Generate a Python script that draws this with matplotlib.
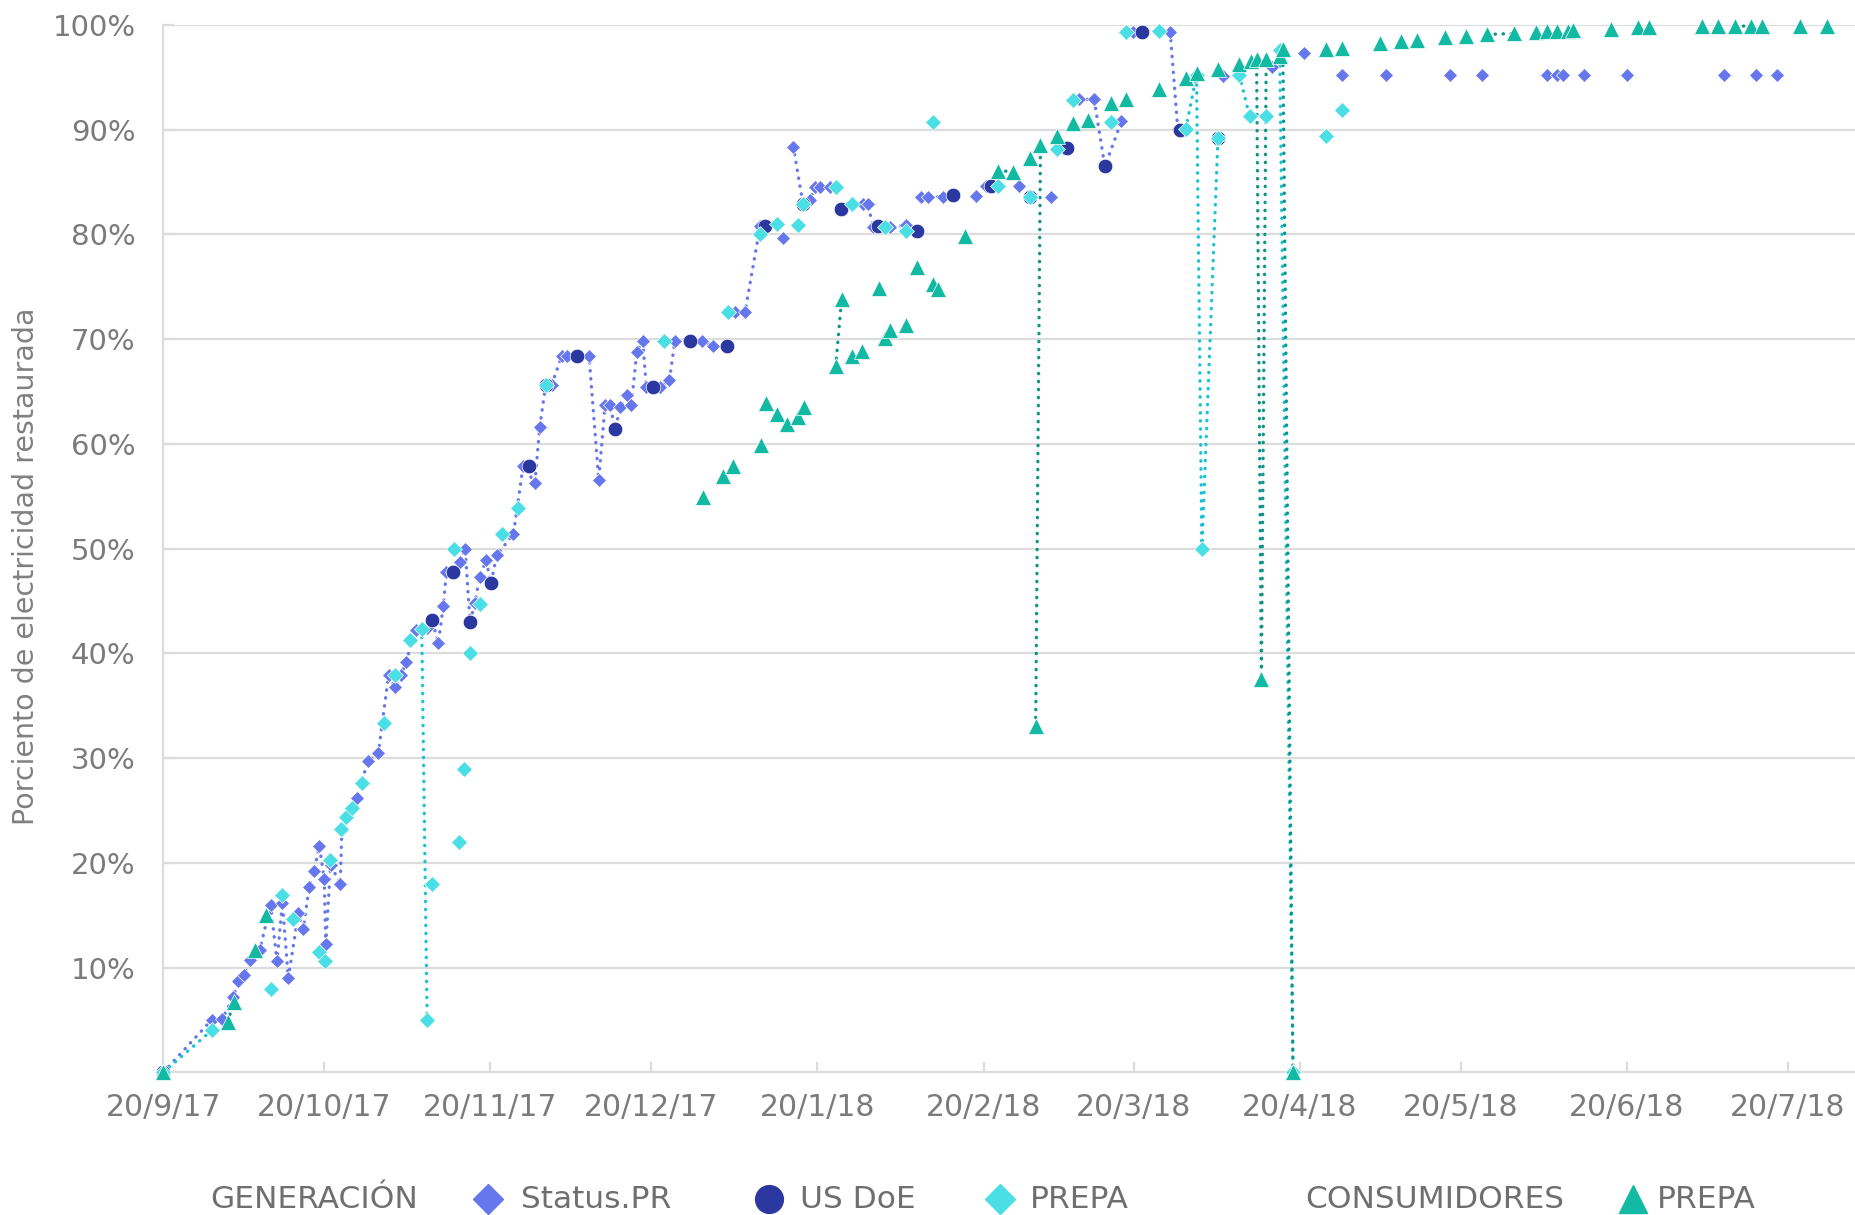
import matplotlib
matplotlib.use("Agg")
import matplotlib.pyplot as plt
import matplotlib.dates as mdates
from matplotlib.lines import Line2D
import numpy as np
import pandas as pd

plt.rcParams["font.family"] = ["DejaVu Sans"]

START = pd.Timestamp("2017-09-20")
END_DAY = 315.7

# Each report: (days since 20/9/17, % restored, 1 if a dotted line joins it to the previous report)
status_pr = [
    (0, 0, 0), (9, 5.0, 1), (11, 5.1, 1), (13, 7.2, 1), (14, 8.7, 1), (15, 9.3, 1),
    (16.2, 10.7, 1), (18, 11.7, 1), (20, 16.0, 1), (21.2, 10.6, 1), (22.2, 16.2, 1),
    (23.3, 9.0, 1), (25.2, 15.2, 1), (26.1, 13.7, 1), (27.2, 17.7, 1), (28.1, 19.2, 1),
    (29.1, 21.6, 1), (30, 18.5, 1), (30.3, 12.3, 1), (31.2, 19.8, 1), (33, 18.0, 1),
    (33.3, 23.1, 1), (35.1, 25.2, 1), (36.2, 26.2, 1), (38.1, 29.7, 1), (40.1, 30.5, 1),
    (42, 37.9, 1), (43.2, 36.8, 1), (44.4, 37.9, 1), (45.2, 39.2, 1), (47.2, 42.2, 1),
    (49.1, 42.4, 1), (50.1, 43.2, 1), (51.3, 41.0, 1), (52.2, 44.5, 1), (52.8, 47.8, 1),
    (53.8, 47.8, 1), (55.3, 48.7, 1), (56.3, 50.0, 1), (57.2, 43.0, 1), (58.1, 44.8, 1),
    (59, 47.3, 1), (60.2, 48.9, 1), (61.1, 46.7, 1), (62.2, 49.4, 1), (65.3, 51.4, 1),
    (67.1, 57.9, 1), (69.3, 56.3, 1), (70.2, 61.6, 1), (71.3, 65.6, 1), (72.4, 65.6, 1),
    (74.3, 68.4, 1), (75.2, 68.4, 1), (77.2, 68.4, 1), (79.4, 68.4, 1), (81.2, 56.6, 1),
    (82.4, 63.7, 1), (83.3, 63.7, 1), (84.3, 61.4, 1), (85.2, 63.5, 1), (86.4, 64.7, 1),
    (87.3, 63.7, 1), (88.3, 68.8, 1), (89.4, 69.8, 1), (90.1, 65.4, 1), (91.4, 65.4, 1),
    (92.6, 65.4, 1), (94.4, 66.1, 1), (95.4, 69.8, 1), (98.2, 69.8, 1), (100.4, 69.8, 1),
    (102.6, 69.4, 1), (105.2, 69.4, 1), (106.6, 72.6, 0), (108.5, 72.6, 1), (111.3, 80.8, 1),
    (112.3, 80.8, 1), (115.5, 79.7, 0), (117.5, 88.4, 0), (119.3, 82.9, 1), (120.6, 83.3, 1),
    (121.5, 84.5, 1), (122.4, 84.5, 1), (124.3, 84.5, 1), (130.5, 82.9, 0), (131.4, 82.9, 1),
    (132.4, 80.7, 1), (133.3, 80.8, 1), (135.5, 80.7, 1), (138.6, 80.9, 1), (141.4, 83.6, 0),
    (142.6, 83.6, 1), (145.4, 83.6, 1), (151.5, 83.7, 0), (153.5, 84.6, 0), (159.6, 84.6, 0),
    (165.6, 83.6, 0), (170.8, 92.9, 0), (173.6, 92.9, 1), (175.6, 86.5, 1), (178.7, 90.8, 1),
    (180.8, 99.3, 0), (187.8, 99.3, 0), (189.2, 90.1, 1), (197.6, 95.1, 0), (206.7, 96.0, 0),
    (212.7, 97.3, 0), (219.8, 95.2, 0), (228, 95.2, 0), (240, 95.2, 0), (246, 95.2, 0),
    (258, 95.2, 0), (260, 95.2, 0), (261, 95.2, 0), (265, 95.2, 0), (273, 95.2, 0),
    (291, 95.2, 0), (297, 95.2, 0), (301, 95.2, 0),
]

us_doe = [
    (0, 0, 0), (50.1, 43.2, 0), (54.1, 47.8, 0), (57.2, 43.0, 0), (61.1, 46.7, 0),
    (68.2, 57.9, 0), (71.3, 65.6, 0), (77.2, 68.4, 0), (84.3, 61.4, 0), (91.4, 65.4, 0),
    (98.2, 69.8, 0), (105.2, 69.4, 0), (112.3, 80.8, 0), (119.3, 82.9, 0), (126.4, 82.4, 0),
    (133.3, 80.8, 0), (140.5, 80.3, 0), (147.3, 83.8, 0), (154.3, 84.6, 0), (161.6, 83.6, 0),
    (168.6, 88.3, 0), (175.6, 86.5, 0), (182.6, 99.3, 0), (189.6, 90.0, 0), (196.7, 89.2, 0),
]

prepa_gen = [
    (0, 0, 0), (9, 4.0, 1), (20.1, 8.0, 0), (22.2, 16.9, 0), (24.1, 14.6, 0), (29.1, 11.5, 0),
    (30.2, 10.6, 0), (31.1, 20.3, 0), (33.1, 23.2, 0), (34.0, 24.4, 0), (35.1, 25.2, 0),
    (37.1, 27.6, 0), (41.2, 33.4, 0), (43.2, 37.9, 0), (46.1, 41.3, 0), (48.2, 42.3, 0),
    (49.2, 5.0, 1), (50.2, 18.0, 0), (54.2, 50.0, 0), (55.2, 22.0, 0), (56.1, 29.0, 0),
    (57.2, 40.0, 0), (59.1, 44.7, 0), (63.2, 51.4, 0), (66.2, 53.9, 0), (71.3, 65.6, 0),
    (93.4, 69.8, 0), (105.4, 72.6, 0), (111.3, 80.0, 0), (114.4, 81.0, 0), (118.4, 80.9, 0),
    (119.3, 82.9, 0), (125.4, 84.5, 0), (128.5, 82.9, 0), (134.6, 80.7, 0), (138.6, 80.3, 0),
    (143.6, 90.7, 0), (155.6, 84.6, 0), (161.6, 83.6, 0), (166.6, 88.2, 0), (169.6, 92.8, 0),
    (176.7, 90.7, 0), (179.6, 99.3, 0), (185.7, 99.4, 0), (190.7, 90.1, 0), (192.7, 95.2, 1),
    (193.7, 50.0, 1), (196.7, 89.2, 1), (200.7, 95.2, 0), (202.6, 91.3, 1), (205.7, 91.3, 0),
    (208.2, 97.6, 0), (210.7, 0, 1), (216.9, 89.4, 0), (219.8, 91.9, 0),
]

prepa_cons = [
    (0, 0, 0), (12, 4.8, 0), (13.1, 6.7, 1), (17.1, 11.7, 0), (19.1, 15.0, 0),
    (100.6, 54.9, 0), (104.3, 56.9, 0), (106.3, 57.9, 0), (111.4, 59.9, 0), (112.4, 63.9, 0),
    (114.4, 62.9, 0), (116.4, 61.9, 0), (118.4, 62.6, 0), (119.5, 63.5, 0), (125.4, 67.4, 0),
    (126.5, 73.8, 1), (128.5, 68.4, 0), (130.4, 68.9, 0), (133.5, 74.9, 0), (134.6, 70.1, 0),
    (135.5, 70.9, 0), (138.6, 71.4, 0), (140.5, 76.9, 0), (143.6, 75.3, 0), (144.5, 74.8, 0),
    (149.6, 79.9, 0), (155.6, 86.1, 0), (158.5, 86.0, 1), (161.6, 87.3, 0), (162.7, 33.1, 0),
    (163.6, 88.5, 1), (166.6, 89.4, 0), (169.6, 90.6, 0), (172.5, 90.9, 0), (176.7, 92.6, 0),
    (179.6, 92.9, 0), (185.7, 93.9, 0), (190.7, 94.9, 0), (192.7, 95.4, 0), (196.7, 95.8, 0),
    (200.7, 96.3, 0), (202.9, 96.6, 0), (203.9, 96.8, 0), (204.8, 37.6, 1), (205.7, 96.8, 1),
    (208.2, 97.0, 0), (208.8, 97.7, 0), (210.7, 0, 1), (216.9, 97.7, 0), (219.8, 97.8, 0),
    (226.9, 98.3, 0), (230.9, 98.5, 0), (233.9, 98.6, 0), (239, 98.9, 0), (242.9, 99.0, 0),
    (246.9, 99.1, 0), (251.9, 99.2, 1), (256, 99.3, 0), (258, 99.4, 0), (260, 99.4, 0),
    (262, 99.4, 0), (263, 99.5, 0), (270, 99.6, 0), (275, 99.8, 0), (277, 99.8, 0),
    (287, 99.9, 0), (290, 99.9, 0), (293.2, 99.9, 0), (296.2, 99.9, 1), (298.2, 99.9, 0),
    (305.2, 99.9, 0), (310.2, 99.9, 0),
]

tick_dates = ["2017-09-20", "2017-10-20", "2017-11-20", "2017-12-20", "2018-01-20",
              "2018-02-20", "2018-03-20", "2018-04-20", "2018-05-20", "2018-06-20",
              "2018-07-20"]
tick_labels = ["20/9/17", "20/10/17", "20/11/17", "20/12/17", "20/1/18", "20/2/18",
               "20/3/18", "20/4/18", "20/5/18", "20/6/18", "20/7/18"]
y_ticks = [10, 20, 30, 40, 50, 60, 70, 80, 90, 100]

STATUS_C = "#6677EE"
DOE_C = "#2B389F"
GEN_C = "#4ADFE5"
GEN_LINE = "#18C4D4"
CONS_C = "#12B9A3"
CONS_LINE = "#0E9488"
GRID_C = "#DCDCDC"
TEXT_C = "#7B7B7B"

t0 = mdates.date2num(START)


def markers_xy(points):
    return (t0 + np.array([p[0] for p in points], float),
            np.array([p[1] for p in points], float))


def line_xy(points):
    xs, ys = [], []
    for i, (day, pct, joined) in enumerate(points):
        if i > 0 and not joined:
            xs.append(np.nan)
            ys.append(np.nan)
        xs.append(t0 + day)
        ys.append(pct)
    return np.array(xs), np.array(ys)


fig = plt.figure(figsize=(18.56, 12.15), dpi=100)
ax = fig.add_axes([0.088, 0.1174, 0.912, 0.862])

dotted = dict(linestyle=(0, (0.1, 2.3)), lw=2.4, dash_capstyle="round", clip_on=False)

# dotted report-to-report lines
for pts, col in [(status_pr, STATUS_C), (prepa_gen, GEN_LINE), (prepa_cons, CONS_LINE)]:
    lx, ly = line_xy(pts)
    ax.plot(lx, ly, color=col, zorder=2, **dotted)

# markers
x, y = markers_xy(status_pr)
ax.plot(x, y, ls="none", marker="D", ms=6.8, mfc=STATUS_C, mec="white", mew=0.5,
        zorder=3, clip_on=False)
x, y = markers_xy(us_doe)
ax.plot(x, y, ls="none", marker="o", ms=10.5, mfc=DOE_C, mec="white", mew=0.5,
        zorder=4, clip_on=False)
x, y = markers_xy(prepa_gen)
ax.plot(x, y, ls="none", marker="D", ms=7.8, mfc=GEN_C, mec="white", mew=0.5,
        zorder=5, clip_on=False)
x, y = markers_xy(prepa_cons)
ax.plot(x, y, ls="none", marker="^", ms=11, mfc=CONS_C, mec="white", mew=0.5,
        zorder=6, clip_on=False)

# axes styling
ax.set_xlim(t0, t0 + END_DAY)
ax.set_ylim(0, 100)
ax.set_xticks(mdates.date2num(pd.to_datetime(tick_dates)))
ax.set_xticklabels(tick_labels)
ax.set_yticks(y_ticks)
ax.set_yticklabels([f"{v}%" for v in y_ticks])

ax.yaxis.grid(True, color=GRID_C, lw=1.6)
ax.set_axisbelow(True)
for side in ["top", "right"]:
    ax.spines[side].set_visible(False)
for side in ["left", "bottom"]:
    ax.spines[side].set_color(GRID_C)
    ax.spines[side].set_linewidth(1.6)

ax.tick_params(axis="y", direction="in", length=8, width=1.6, color=GRID_C,
               labelsize=21, labelcolor=TEXT_C, pad=20)
ax.tick_params(axis="x", direction="in", length=7, width=1.6, color=GRID_C,
               labelsize=21.5, labelcolor=TEXT_C, pad=15)

ax.set_ylabel("Porciento de electricidad restaurada", fontsize=20.5, color="#808080")
ax.yaxis.set_label_coords(-0.073, 0.483)

# legend along the bottom
ly = 0.0125
leg_txt = dict(fontsize=22.5, color="#6F6F6F", va="center", ha="left")
fig.text(0.1135, ly, "GENERACIÓN", **leg_txt)
fig.text(0.2806, ly, "Status.PR", **leg_txt)
fig.text(0.4311, ly, "US DoE", **leg_txt)
fig.text(0.5549, ly, "PREPA", **leg_txt)
fig.text(0.7035, ly, "CONSUMIDORES", **leg_txt)
fig.text(0.8929, ly, "PREPA", **leg_txt)

for xpos, mk, ms, col in [(0.2628, "D", 15, STATUS_C), (0.4146, "o", 20, DOE_C),
                          (0.5389, "D", 15, GEN_C), (0.8801, "^", 20, CONS_C)]:
    fig.add_artist(Line2D([xpos], [ly + 0.001], transform=fig.transFigure, ls="none",
                          marker=mk, ms=ms, mfc=col, mec=col))

fig.savefig("out.png", dpi=100)
